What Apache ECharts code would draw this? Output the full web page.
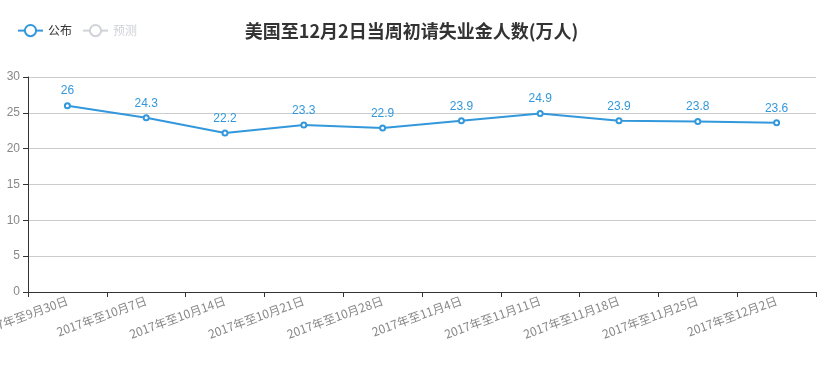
<!DOCTYPE html>
<html><head><meta charset="utf-8">
<script src="https://cdn.jsdelivr.net/npm/echarts@6/dist/echarts.min.js"></script>
<style>html,body{margin:0;padding:0;background:#fff}#c{width:823px;height:366px}</style>
</head><body><div id="c"></div>
<script>
const categories = ['2017年至9月30日','2017年至10月7日','2017年至10月14日','2017年至10月21日','2017年至10月28日','2017年至11月4日','2017年至11月11日','2017年至11月18日','2017年至11月25日','2017年至12月2日'];
const published = [26, 24.3, 22.2, 23.3, 22.9, 23.9, 24.9, 23.9, 23.8, 23.6];
const forecast = [];
const chart = echarts.init(document.getElementById('c'));
chart.setOption({
  animation: false,
  title: {text: '美国至12月2日当周初请失业金人数(万人)', left: 'center', top: 17,
    textStyle: {fontSize: 18, fontWeight: 'bold', color: '#333', fontFamily: 'Noto Sans CJK SC'}},
  legend: {left: 12, top: 19, itemGap: 10, itemWidth: 25, itemHeight: 14,
    textStyle: {color: '#333', fontSize: 12, fontFamily: 'Noto Sans CJK SC'},
    data: ['公布', '预测'], selected: {'公布': true, '预测': false}},
  grid: {left: 28, right: 7, top: 77, bottom: 74, containLabel: false, outerBoundsMode: 'none'},
  xAxis: {type: 'category', data: categories, boundaryGap: true,
    axisLine: {lineStyle: {color: '#333'}}, axisTick: {show: true, lineStyle: {color: '#333'}},
    axisLabel: {rotate: 20, interval: 0, color: '#888', fontSize: 12, fontFamily: 'Noto Sans CJK SC', margin: 8}},
  yAxis: {type: 'value', min: 0, max: 30, interval: 5,
    axisLine: {show: true, lineStyle: {color: '#333'}}, axisTick: {show: true, lineStyle: {color: '#333'}},
    axisLabel: {color: '#888', fontSize: 12},
    splitLine: {lineStyle: {color: '#ccc'}}},
  series: [
    {name: '公布', type: 'line', data: published, color: '#3398DB', symbol: 'emptyCircle', symbolSize: 5,
      lineStyle: {width: 2}, label: {show: true, position: 'top', color: '#3398DB', fontSize: 12}},
    {name: '预测', type: 'line', data: forecast, color: '#3398DB', symbol: 'emptyCircle'}
  ]
});
</script></body></html>
